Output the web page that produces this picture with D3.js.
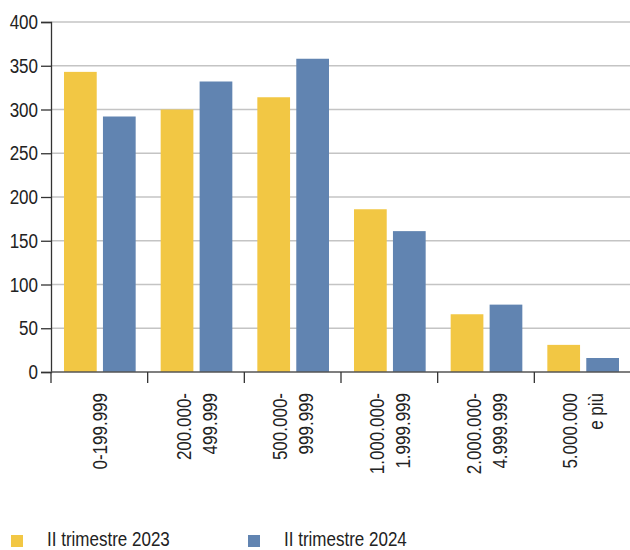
<!DOCTYPE html>
<html>
<head>
<meta charset="utf-8">
<script src="https://cdn.jsdelivr.net/npm/d3@7"></script>
<style>
  body { margin: 0; background: #fff; }
  text { font-family: "Liberation Sans", Arial, sans-serif; fill: #222; }
</style>
</head>
<body>
<svg id="chart" width="630" height="550"></svg>
<script>
const categories = [
  ['0-199.999'],
  ['200.000-', '499.999'],
  ['500.000-', '999.999'],
  ['1.000.000-', '1.999.999'],
  ['2.000.000-', '4.999.999'],
  ['5.000.000', 'e più'],
];
const seriesNames = ['II trimestre 2023', 'II trimestre 2024'];
const values2023 = [343, 300, 314, 186, 66, 31];
const values2024 = [292, 332, 358, 161, 77, 16];
const yTicks = [0, 50, 100, 150, 200, 250, 300, 350, 400];
const colors = ['#F2C744', '#6184B1'];

const svg = d3.select('#chart');
const margin = { left: 51, top: 22 };
const width = 631 - margin.left;
const height = 372 - margin.top;
const squeeze = 0.81; // condensed look
const g = svg.append('g').attr('transform', `translate(${margin.left},${margin.top})`);

const x0 = d3.scaleBand().domain(d3.range(categories.length)).range([0, width]).padding(0);
const x1 = d3.scaleBand().domain([0, 1]).range([13, x0.bandwidth() - 12]).paddingInner(0.16);
const y = d3.scaleLinear().domain([0, 400]).range([height, 0]);

// gridlines
g.selectAll('.grid')
  .data(yTicks.slice(1))
  .enter()
  .append('line')
  .attr('x1', 0)
  .attr('x2', width)
  .attr('y1', (d) => y(d))
  .attr('y2', (d) => y(d))
  .attr('stroke', '#c4c4c4')
  .attr('stroke-width', 1.3);

// bars
const series = [values2023, values2024];
series.forEach((vals, s) => {
  g.selectAll(`.bar${s}`)
    .data(vals)
    .enter()
    .append('rect')
    .attr('x', (d, i) => x0(i) + x1(s))
    .attr('y', (d) => y(d))
    .attr('width', x1.bandwidth())
    .attr('height', (d) => height - y(d))
    .attr('fill', colors[s]);
});

// y axis
const yAxis = d3.axisLeft(y).tickValues(yTicks).tickSize(10).tickPadding(3);
const ya = g.append('g').call(yAxis);
ya.select('.domain').attr('stroke', '#333').attr('stroke-width', 1.3);
ya.selectAll('.tick line').attr('stroke', '#333').attr('stroke-width', 1.3);
ya.selectAll('.tick text')
  .attr('x', 0)
  .attr('transform', `translate(-13,0) scale(${squeeze},1)`)
  .attr('font-size', 21)
  .style('font-family', '"Liberation Sans", Arial, sans-serif')
  .attr('fill', '#222');

// x axis line
g.append('line')
  .attr('x1', 0).attr('x2', width)
  .attr('y1', height).attr('y2', height)
  .attr('stroke', '#555').attr('stroke-width', 1.5);

// category ticks at band edges
g.selectAll('.xtick')
  .data(d3.range(categories.length))
  .enter()
  .append('line')
  .attr('x1', (i) => x0(i)).attr('x2', (i) => x0(i))
  .attr('y1', height).attr('y2', height + 11)
  .attr('stroke', '#333').attr('stroke-width', 1.3);

// rotated labels
categories.forEach((lines, i) => {
  const cx = x0(i) + x0.bandwidth() / 2;
  const lineGap = 26;
  lines.forEach((t, j) => {
    const off = (j - (lines.length - 1) / 2) * lineGap;
    g.append('text')
      .attr('transform', `translate(${cx + off + 7.5},${height + 21}) rotate(-90) scale(${squeeze},1)`)
      .attr('text-anchor', 'end')
      .attr('font-size', 21)
      .text(t);
  });
});

// legend
const legendX = [11, 248];
seriesNames.forEach((name, s) => {
  svg.append('rect')
    .attr('x', legendX[s]).attr('y', 535)
    .attr('width', 12).attr('height', 12)
    .attr('fill', colors[s]);
  svg.append('text')
    .attr('transform', `translate(${legendX[s] + 36},546) scale(${squeeze},1)`)
    .attr('font-size', 21)
    .text(name);
});
</script>
</body>
</html>
